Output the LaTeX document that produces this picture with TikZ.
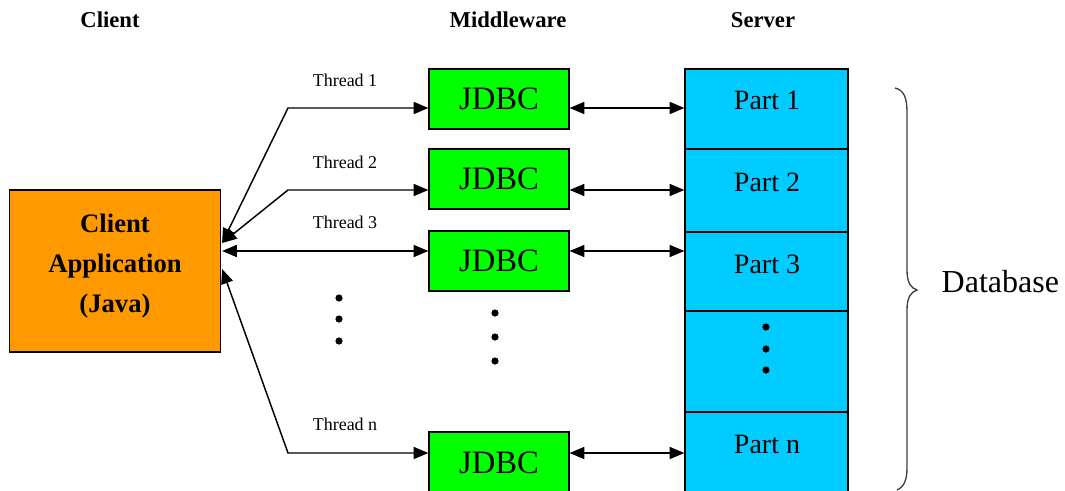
\documentclass[tikz,border=0pt]{standalone}
\usepackage{fontspec}
\setmainfont{Liberation Serif}
\usetikzlibrary{arrows.meta,calc}
\definecolor{corange}{HTML}{FF9900}
\definecolor{cgreen}{HTML}{00FF00}
\definecolor{ccyan}{HTML}{00CCFF}
\tikzset{
  tri/.tip={Triangle[length=11pt,width=9pt]},
  box/.style={draw=black, line width=0.9pt, inner sep=0pt},
  clientbox/.style={box, fill=corange, minimum width=211*0.75pt, minimum height=162*0.75pt},
  jdbcbox/.style={box, fill=cgreen, minimum width=140*0.75pt, minimum height=60*0.75pt,
    font=\fontsize{24.5}{28}\selectfont},
  cellbox/.style={box, fill=ccyan, minimum width=163*0.75pt},
  header/.style={font=\bfseries\fontsize{17}{20}\selectfont, anchor=base},
  threadlbl/.style={font=\fontsize{13.5}{16}\selectfont, anchor=base},
  partlbl/.style={font=\fontsize{21}{24}\selectfont, anchor=base},
  conn/.style={tri-tri, line width=1.1pt},
  dot/.style={fill=black}
}
\begin{document}
\begin{tikzpicture}[x=0.75pt,y=-0.75pt]
\clip (0,0) rectangle (1065,490);
\fill[white] (0,0) rectangle (1065,490);

% headers
\node[header] (hclient) at (110,27) {Client};
\node[header] (hmid) at (508,27) {Middleware};
\node[header] (hserver) at (763,27) {Server};

% client
\node[clientbox] (client) at (115,271) {};
\node[align=center, font=\bfseries\fontsize{20}{30}\selectfont] (clienttext) at (115,266)
  {Client\\Application\\(Java)};

% JDBC boxes
\node[jdbcbox] (j1) at (499,99) {JDBC};
\node[jdbcbox] (j2) at (499,179) {JDBC};
\node[jdbcbox] (j3) at (499,261) {JDBC};
\node[jdbcbox, minimum height=62*0.75pt] (jn) at (499,463) {JDBC};

% server cells
\node[cellbox, minimum height=80*0.75pt] (p1) at (766.5,109) {};
\node[cellbox, minimum height=83*0.75pt] (p2) at (766.5,190.5) {};
\node[cellbox, minimum height=79*0.75pt] (p3) at (766.5,271.5) {};
\node[cellbox, minimum height=101*0.75pt] (pd) at (766.5,361.5) {};
\node[cellbox, minimum height=82*0.75pt] (pn) at (766.5,453) {};
\node[partlbl] (l1) at (767,109) {Part 1};
\node[partlbl] (l2) at (767,191) {Part 2};
\node[partlbl] (l3) at (767,273) {Part 3};
\node[partlbl] (ln) at (767,453) {Part n};

% bend points of the thread connectors
\coordinate (b1) at (288,108);
\coordinate (b2) at (288,190);
\coordinate (b3) at (288,251);
\coordinate (bn) at (288,453);
% anchor points on the client box
\coordinate (c1) at ($(client.east)+(1,-28)$);
\coordinate (c3) at ($(client.east)+(1,-20)$);
\coordinate (cn) at ($(client.east)+(1,-2)$);

% thread connectors
\draw[conn] (c1) -- (b1) -- (b1 -| j1.west);
\draw[conn] (c1) -- (b2) -- (b2 -| j2.west);
\draw[conn] (c3) -- (b3 -| j3.west);
\draw[conn] (cn) -- (bn) -- (bn -| jn.west);

% thread labels
\node[threadlbl] (t1) at (345,86) {Thread 1};
\node[threadlbl] (t2) at (345,168) {Thread 2};
\node[threadlbl] (t3) at (345,228) {Thread 3};
\node[threadlbl] (tn) at (345,430) {Thread n};

% JDBC <-> server
\draw[conn] (b1 -| j1.east) -- (b1 -| p1.west);
\draw[conn] (b2 -| j2.east) -- (b2 -| p2.west);
\draw[conn] (b3 -| j3.east) -- (b3 -| p3.west);
\draw[conn] (bn -| jn.east) -- (bn -| pn.west);

% ellipsis dots
\foreach \yy in {298,319,341} \fill[dot] (339,\yy) circle[radius=2.7pt];
\foreach \yy in {313,337,361} \fill[dot] (495,\yy) circle[radius=2.7pt];
\foreach \yy in {327,349,370} \fill[dot] (766,\yy) circle[radius=2.7pt];

% brace
\draw[line width=1pt, black!75] (895,88) .. controls (904,90) and (907,98) .. (907,112)
  -- (907,270) .. controls (907,283) and (911,288) .. (917,290)
  .. controls (911,292) and (907,297) .. (907,310)
  -- (907,468) .. controls (907,480) and (904,487) .. (897,490);
\node[font=\fontsize{24}{28}\selectfont, anchor=base west] (db) at (937,292) {Database};
\end{tikzpicture}
\end{document}
